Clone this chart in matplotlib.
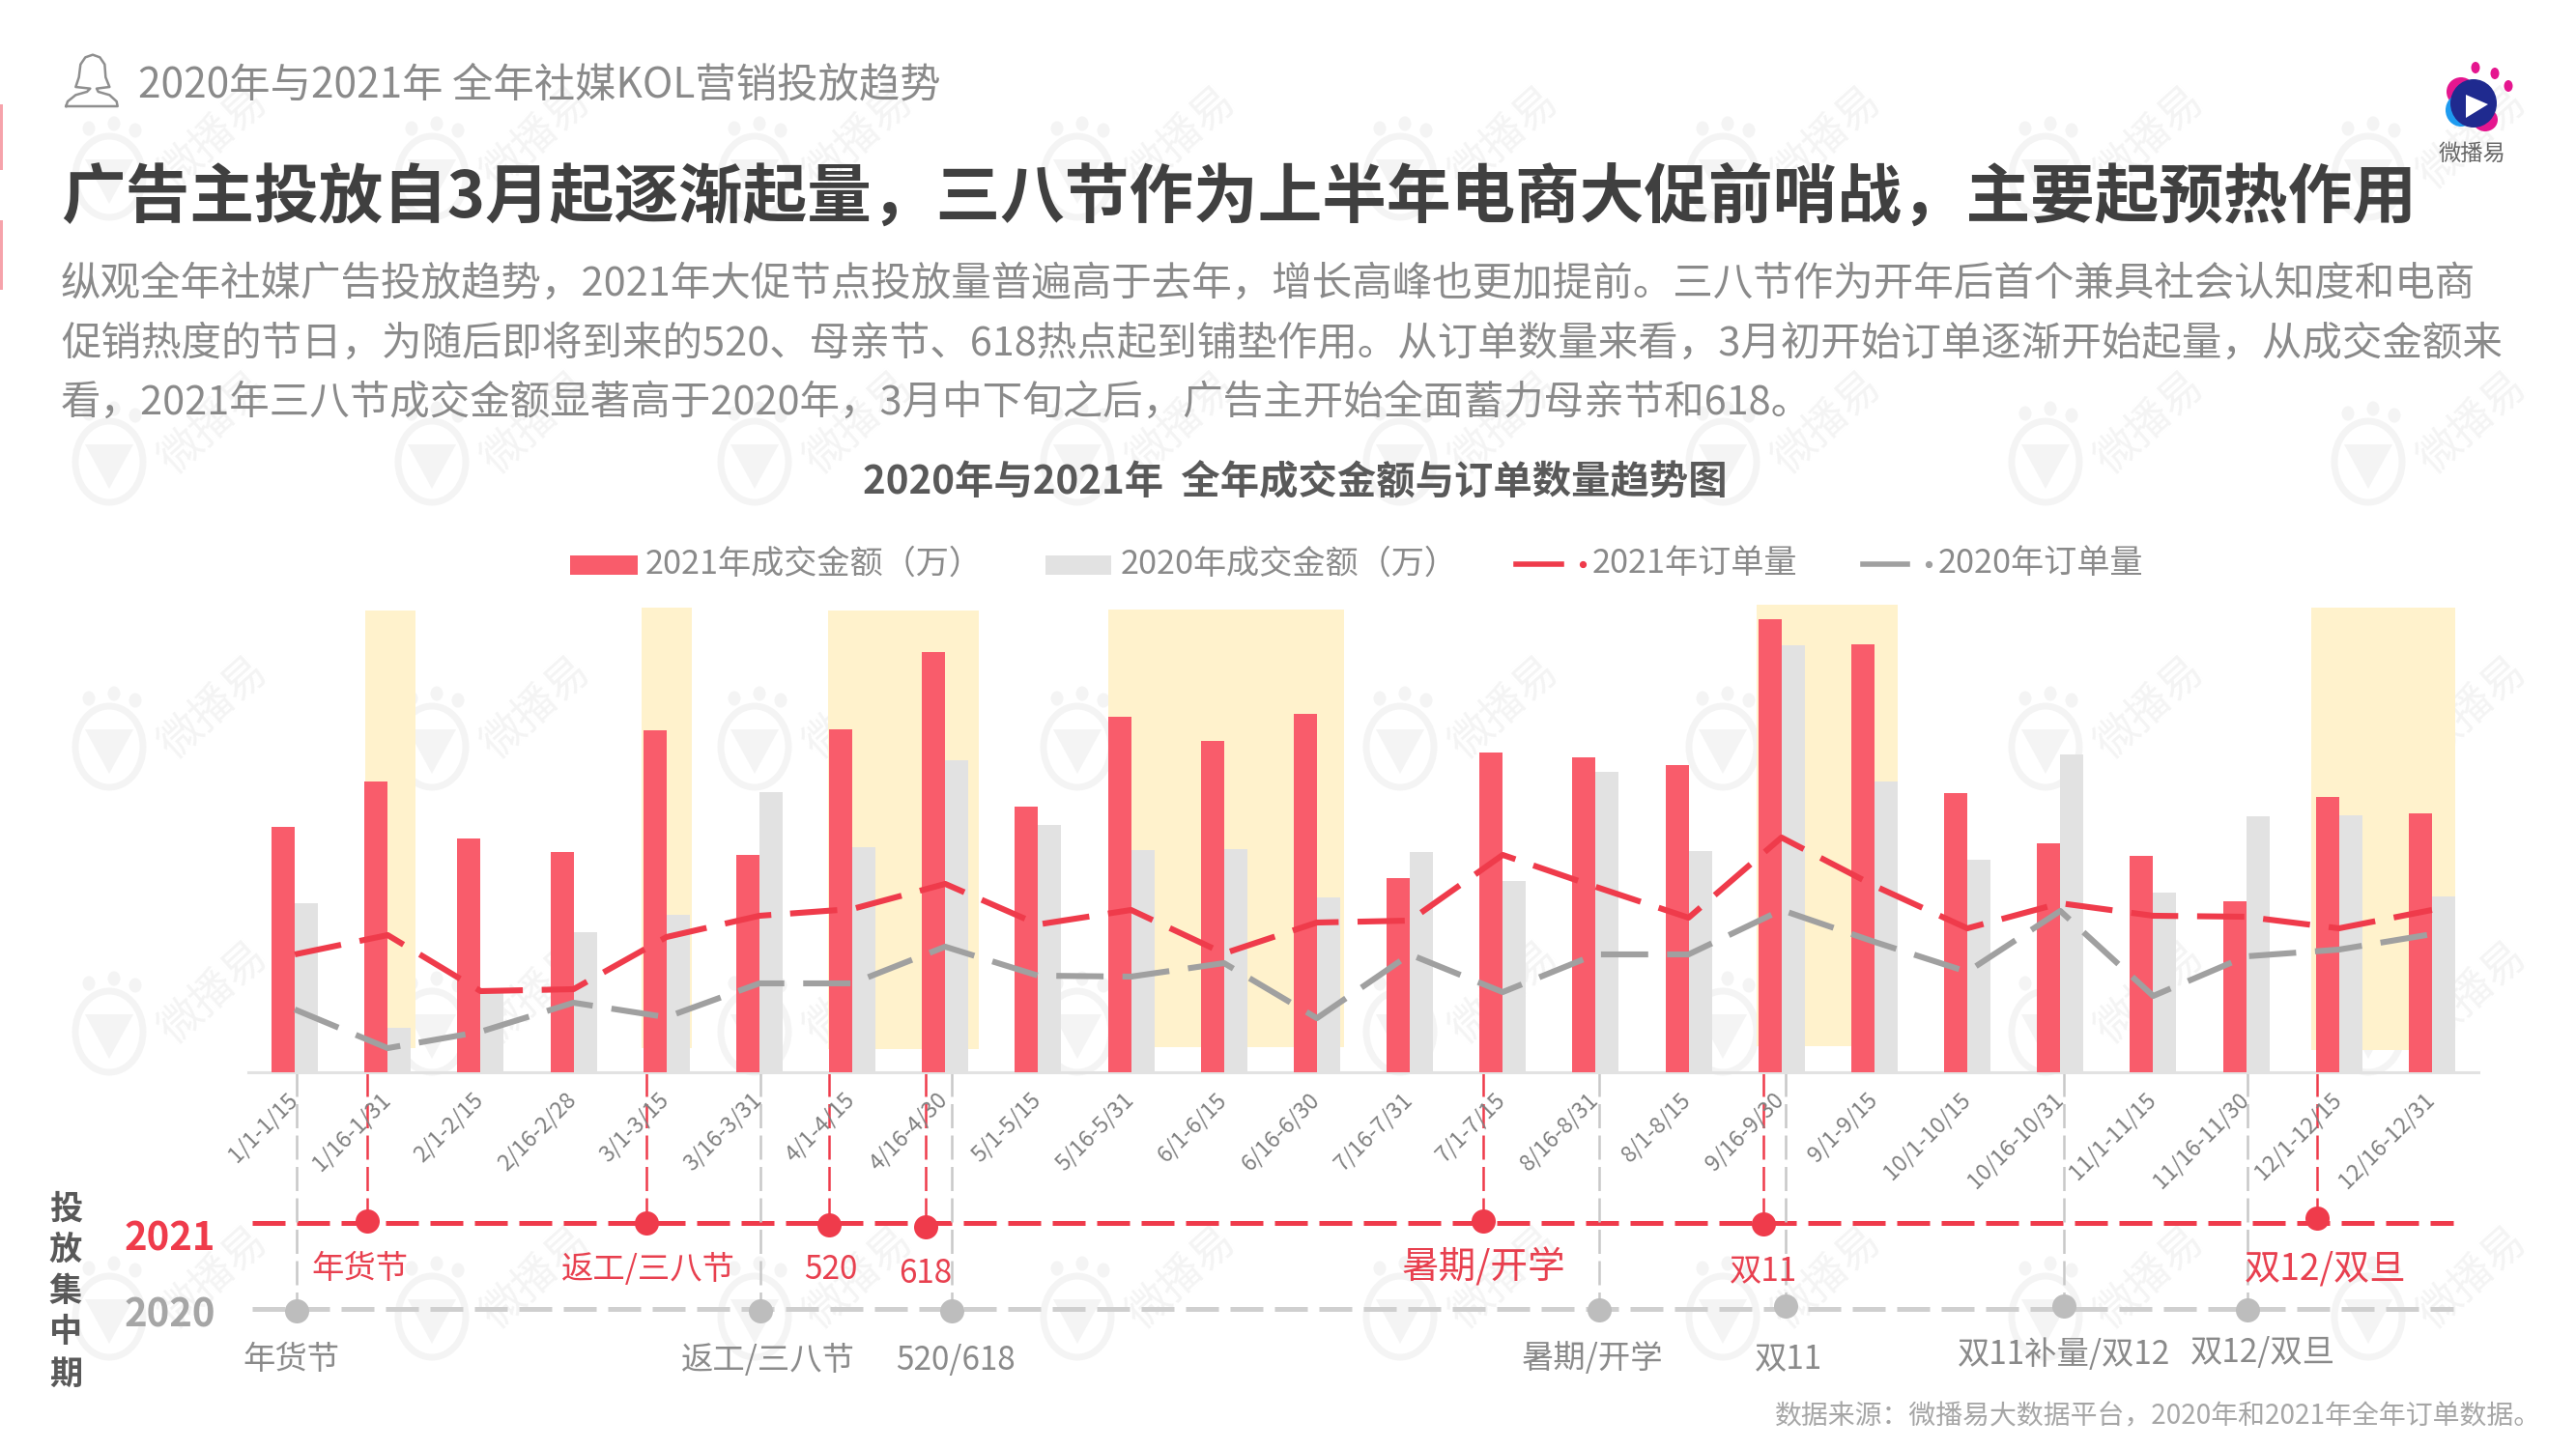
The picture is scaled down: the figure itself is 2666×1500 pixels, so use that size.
import matplotlib
matplotlib.use("Agg")
import matplotlib.pyplot as plt
from matplotlib.patches import Ellipse, Polygon, Rectangle
from matplotlib.transforms import ScaledTranslation

plt.rcParams['font.family'] = ['Noto Sans CJK SC', 'DejaVu Sans']
plt.rcParams['font.weight'] = 'light'

# period labels, order kept as printed in the source chart
periods = ['1/1-1/15', '1/16-1/31', '2/1-2/15', '2/16-2/28', '3/1-3/15', '3/16-3/31',
           '4/1-4/15', '4/16-4/30', '5/1-5/15', '5/16-5/31', '6/1-6/15', '6/16-6/30',
           '7/16-7/31', '7/1-7/15', '8/16-8/31', '8/1-8/15', '9/16-9/30', '9/1-9/15',
           '10/1-10/15', '10/16-10/31', '11/1-11/15', '11/16-11/30', '12/1-12/15', '12/16-12/31']

# no axis in the source, values are read relative to bar height
amount_2021 = [254, 301, 242, 228, 354, 225, 355, 435, 275, 368, 343, 371,
               201, 331, 326, 318, 469, 443, 289, 237, 224, 177, 285, 268]
amount_2020 = [175, 46, 82, 145, 163, 290, 233, 323, 256, 230, 231, 181,
               228, 198, 311, 229, 442, 301, 220, 329, 186, 265, 266, 182]
orders_2021 = [122, 142, 84, 86, 140, 162, 169, 195, 153, 168, 123, 155,
               157, 225, 192, 160, 243, 193, 149, 175, 162, 161, 149, 168]
orders_2020 = [65, 25, 42, 72, 57, 92, 92, 130, 100, 99, 113, 56,
               122, 83, 122, 122, 168, 135, 104, 167, 79, 120, 127, 143]

band_start = [0.76, 3.73, 5.74, 8.75, 15.73, 21.70]
band_end = [1.30, 4.27, 7.36, 11.29, 17.25, 23.25]
band_top = [478, 481, 478, 479, 484, 481]
band_bottom = [25, 25, 24, 26, 27, 23]

event_x_2021 = [0.78, 3.78, 5.75, 6.79, 12.79, 15.80, 21.76]
event_row_2021 = [154, 156, 158, 160, 154, 157, 151]
event_names_2021 = ['年货节', '返工/三八节', '520', '618', '暑期/开学', '双11', '双12/双旦']
event_x_2020 = [0.02, 5.01, 7.07, 14.04, 16.04, 19.04, 21.01]
event_row_2020 = [247, 247, 247, 246, 242, 242, 246]
event_names_2020 = ['年货节', '返工/三八节', '520/618', '暑期/开学', '双11', '双11补量/双12', '双12/双旦']

RED = '#f95c6b'
GREY = '#e2e2e2'
LINE_RED = '#ef3b4b'
LINE_GREY = '#a0a0a0'
TXT = '#8a8a8a'

W, H = 2666, 1500
fig = plt.figure(figsize=(W / 200, H / 200), dpi=200, facecolor='white')

# background layer in pixel coordinates for page furniture
bg = fig.add_axes([0, 0, 1, 1], zorder=0)
bg.set_xlim(0, W)
bg.set_ylim(H, 0)
bg.axis('off')

# watermark grid
wm = '#f4f4f4'
for row in range(5):
    for col in range(8):
        cx = 220 + 334 * col
        cy = 143 + 295 * row
        bg.text(cx, cy, '微播易', fontsize=16, color=wm, rotation=42, ha='center', va='center')
        bg.add_patch(Ellipse((cx - 107, cy + 40), 70, 84, fc='none', ec=wm, lw=2.5))
        bg.add_patch(Polygon([(cx - 132, cy + 22), (cx - 82, cy + 22), (cx - 107, cy + 68)], fc=wm, ec='none'))
        for dx, dy in [(-128, -10), (-102, -15), (-80, -8)]:
            bg.add_patch(Ellipse((cx + dx, cy + dy), 13, 15, fc=wm, ec='none'))

# red marks on the left edge
bg.add_patch(Rectangle((0, 108), 3, 68, fc='#f6a3ab', ec='none'))
bg.add_patch(Rectangle((0, 228), 3, 72, fc='#f6a3ab', ec='none'))

# person icon
icon = [(55, 210), (60, 195), (85, 175), (120, 165), (130, 155), (85, 150), (95, 120), (100, 80),
        (115, 58), (138, 50), (160, 58), (175, 80), (178, 120), (190, 150), (150, 155), (155, 165),
        (190, 175), (212, 195), (215, 210), (55, 210)]
bg.plot([50 + p[0] / 3 for p in icon], [40 + p[1] / 3 for p in icon], color='#8f8f8f', lw=0.9)

# brand logo, above the watermark text
bg.add_patch(Ellipse((2547, 95), 30, 30, fc='#e5168f', ec='none', zorder=5))
bg.add_patch(Ellipse((2547, 114), 32, 34, fc='#1e9bf0', ec='none', zorder=5))
bg.add_patch(Ellipse((2572, 124), 26, 24, fc='#e5168f', ec='none', zorder=5))
bg.add_patch(Ellipse((2560, 107), 48, 50, fc='#1f2a8f', ec='none', zorder=6))
bg.add_patch(Polygon([(2552, 98), (2552, 122), (2575, 108)], fc='white', ec='none', zorder=7))
for x, y in [(2562, 70), (2582, 76), (2596, 89)]:
    bg.add_patch(Ellipse((x, y), 9, 12, fc='#e5168f', ec='none', zorder=5))
bg.text(2559, 159, '微播易', fontsize=8.4, color='#666666', ha='center', va='center', zorder=7)

bg.text(143, 88, '2020年与2021年 全年社媒KOL营销投放趋势', fontsize=15.25, color=TXT, va='center')
bg.text(63, 205, '广告主投放自3月起逐渐起量，三八节作为上半年电商大促前哨战，主要起预热作用',
        fontsize=24, fontweight='bold', color='#404040', va='center')
body = ['纵观全年社媒广告投放趋势，2021年大促节点投放量普遍高于去年，增长高峰也更加提前。三八节作为开年后首个兼具社会认知度和电商',
        '促销热度的节日，为随后即将到来的520、母亲节、618热点起到铺垫作用。从订单数量来看，3月初开始订单逐渐开始起量，从成交金额来',
        '看，2021年三八节成交金额显著高于2020年，3月中下旬之后，广告主开始全面蓄力母亲节和618。']
for y, line in zip([294, 356, 417], body):
    bg.text(63, y, line, fontsize=14.95, color=TXT, va='center')
bg.text(1340, 500, '2020年与2021年  全年成交金额与订单数量趋势图', fontsize=14.53, fontweight='bold',
        color='#595959', ha='center', va='center')

# legend
leg_y = 584
bg.add_patch(Rectangle((590, 575), 70, 20, fc=RED, ec='none'))
bg.text(668, leg_y, '2021年成交金额（万）', fontsize=12.3, color=TXT, va='center')
bg.add_patch(Rectangle((1082, 575), 68, 20, fc=GREY, ec='none'))
bg.text(1160, leg_y, '2020年成交金额（万）', fontsize=12.3, color=TXT, va='center')
bg.plot([1569, 1616], [leg_y, leg_y], color=LINE_RED, lw=2)
bg.plot([1638], [leg_y], 'o', color=LINE_RED, ms=1.6)
bg.text(1648, leg_y, '2021年订单量', fontsize=12.3, color=TXT, va='center')
bg.plot([1928, 1974], [leg_y, leg_y], color=LINE_GREY, lw=2)
bg.plot([1996], [leg_y], 'o', color=LINE_GREY, ms=1.6)
bg.text(2006, leg_y, '2020年订单量', fontsize=12.3, color=TXT, va='center')

# timeline labels on the left
for y, ch in zip([1251, 1293, 1336, 1378, 1422], '投放集中期'):
    bg.text(68, y, ch, fontsize=12.3, fontweight='bold', color='#595959', ha='center', va='center')
bg.text(176, 1283, '2021', fontsize=14.4, fontweight='bold', color=LINE_RED, ha='center', va='center')
bg.text(176, 1362, '2020', fontsize=14.4, fontweight='bold', color='#a6a6a6', ha='center', va='center')
bg.text(2630, 1466, '数据来源：微播易大数据平台，2020年和2021年全年订单数据。', fontsize=10.06,
        color='#a6a6a6', ha='right', va='center')

# timeline under the chart
left, right = 257 / W, 2565 / W
tl = fig.add_axes([left, 1 - 1480 / H, right - left, 370 / H], zorder=1)
tl.patch.set_visible(False)
tl.set_xlim(-0.5, 23.5)
tl.set_ylim(370, 0)
tl.axis('off')
tl.plot([-0.46, 23.23], [156, 156], color=LINE_RED, lw=1.8, linestyle=(0, (6.8, 2.4)))
tl.plot([-0.46, 23.23], [245, 245], color='#cfcfcf', lw=1.8, linestyle=(0, (6.8, 2.4)))
tl.vlines(event_x_2020, 0, event_row_2020, color='#c8c8c8', lw=0.9, linestyle=(0, (10, 3)))
tl.vlines(event_x_2021, 0, event_row_2021, color=LINE_RED, lw=0.9, linestyle=(0, (10, 3)))
tl.plot(event_x_2020, event_row_2020, 'o', color='#bdbdbd', ms=9, mew=0)
tl.plot(event_x_2021, event_row_2021, 'o', color=LINE_RED, ms=9, mew=0)

# label positions follow the events, with the small offsets seen in the source
label_dx_2021 = [-0.08, 0.03, 0.02, 0.0, 0.0, 0.0, 0.09]
label_rows_2021 = [204, 204, 205, 208, 202, 207, 204]
label_sizes_2021 = [12, 12, 12, 12, 13.9, 12, 13.4]
for x, dx, y, fs, name in zip(event_x_2021, label_dx_2021, label_rows_2021, label_sizes_2021, event_names_2021):
    tl.text(x + dx, y, name, fontsize=fs, color='#e8404f', ha='center', va='center')
label_dx_2020 = [-0.06, 0.08, 0.04, -0.07, 0.03, 0.0, 0.17]
label_rows_2020 = [298, 298, 298, 296, 298, 293, 290]
for x, dx, y, name in zip(event_x_2020, label_dx_2020, label_rows_2020, event_names_2020):
    tl.text(x + dx, y, name, fontsize=12, color=TXT, ha='center', va='center')

# main chart
ax = fig.add_axes([left, 1 - 1110 / H, right - left, 490 / H], zorder=2)
ax.patch.set_visible(False)
xs = list(range(len(periods)))
for s, e, b, t in zip(band_start, band_end, band_bottom, band_top):
    ax.bar((s + e) / 2, t - b, width=e - s, bottom=b, color='#fff2cc', zorder=1)
ax.bar([x - 0.125 for x in xs], amount_2021, width=0.25, color=RED, zorder=3, label='2021年成交金额（万）')
ax.bar([x + 0.125 for x in xs], amount_2020, width=0.25, color=GREY, zorder=2, label='2020年成交金额（万）')
ax.plot(xs, orders_2020, color=LINE_GREY, lw=2.2, linestyle=(0, (8, 3.2)), zorder=4, label='2020年订单量')
ax.plot(xs, orders_2021, color=LINE_RED, lw=2.2, linestyle=(0, (8, 3.2)), zorder=5, label='2021年订单量')
ax.set_xlim(-0.5, 23.5)
ax.set_ylim(0, 490)
ax.set_yticks([])
ax.set_xticks(xs)
ax.set_xticklabels(periods, rotation=45, ha='right', va='top', rotation_mode='anchor',
                   fontsize=8.4, color='#808080')
ax.tick_params(axis='x', length=0, pad=6)
shift = ScaledTranslation(-9 / 200, 0, fig.dpi_scale_trans)
for lab in ax.get_xticklabels():
    lab.set_transform(lab.get_transform() + shift)
for side in ['top', 'left', 'right']:
    ax.spines[side].set_visible(False)
ax.spines['bottom'].set_color('#e2e2e2')
ax.spines['bottom'].set_linewidth(1.1)

fig.savefig('out.png', dpi=200)
